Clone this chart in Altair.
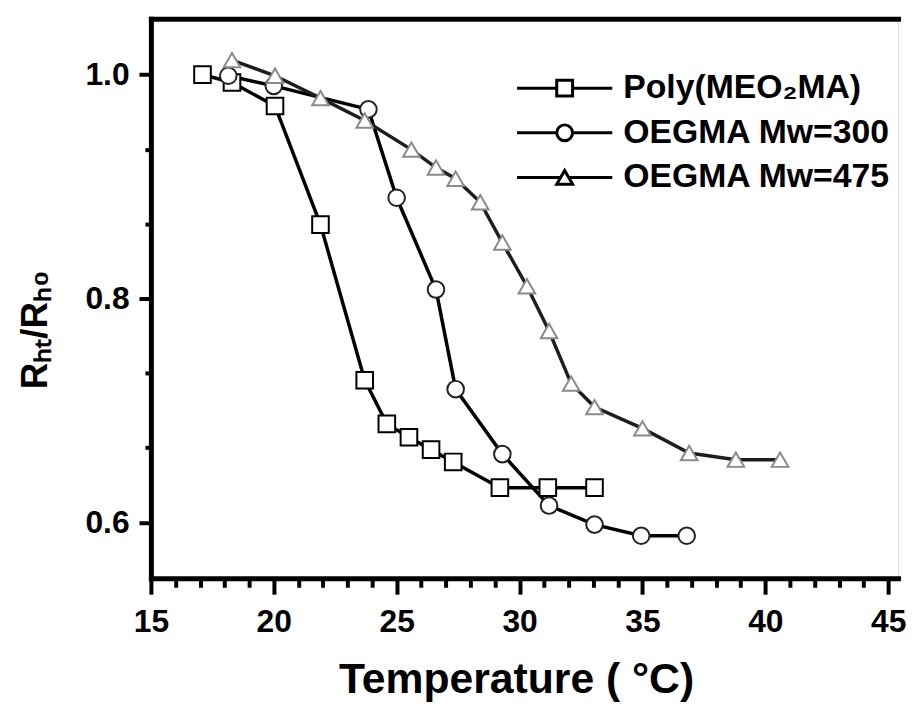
import altair as alt
import pandas as pd

series_names = ["Poly(MEO\u2082MA)", "OEGMA Mw=300", "OEGMA Mw=475"]

temp_meo2ma = [17.1, 18.3, 20.05, 21.9, 23.7, 24.6, 25.5, 26.4, 27.3, 29.2, 31.15, 33.05]
ratio_meo2ma = [1.0, 0.993, 0.972, 0.866, 0.727, 0.688, 0.676, 0.665, 0.654, 0.631, 0.631, 0.631]

temp_300 = [18.15, 20.0, 23.85, 25.0, 26.6, 27.4, 29.3, 31.2, 33.05, 34.95, 36.8]
ratio_300 = [0.999, 0.990, 0.969, 0.890, 0.808, 0.719, 0.661, 0.615, 0.598, 0.588, 0.588]

temp_475 = [18.3, 20.05, 21.9, 23.7, 25.6, 26.6, 27.4, 28.4, 29.3, 30.3, 31.2, 32.1,
            33.05, 35.0, 36.9, 38.8, 40.6]
ratio_475 = [1.013, 0.999, 0.979, 0.959, 0.933, 0.917, 0.907, 0.886, 0.850, 0.811, 0.771,
             0.724, 0.703, 0.684, 0.662, 0.656, 0.656]

x_tick_values = list(range(15, 46))
y_tick_values = [0.6, 0.6667, 0.7333, 0.8, 0.8667, 0.9333, 1.0]

rows = []
for name, xs, ys in [(series_names[0], temp_meo2ma, ratio_meo2ma),
                     (series_names[1], temp_300, ratio_300),
                     (series_names[2], temp_475, ratio_475)]:
    for i, (xv, yv) in enumerate(zip(xs, ys)):
        rows.append({"series": name, "temp": xv, "ratio": yv, "order": i})
df = pd.DataFrame(rows)

FONT = "Liberation Sans"
x_scale = alt.Scale(domain=[15, 45.4], nice=False, zero=False)
y_scale = alt.Scale(domain=[0.55, 1.05], nice=False, zero=False)

x_axis = alt.Axis(
    values=x_tick_values,
    labelExpr="datum.value % 5 === 0 ? datum.label : ''",
    labelOverlap=False, labelFlush=False,
    tickSize={"condition": {"test": "datum.value % 5 === 0", "value": 16}, "value": 9},
    tickWidth=4, tickColor="black",
    domainWidth=5, domainColor="black", domainCap="square",
    labelFont=FONT, labelFontSize=32, labelFontWeight="bold", labelColor="black",
    labelPadding=13,
    title="Temperature ( \u00b0C)", titleFont=FONT, titleFontSize=43, titleFontWeight="bold",
    titleColor="black", titleX=368, titleY=115, titleAlign="center",
    titleBaseline="alphabetic", grid=False, orient="bottom",
)
y_axis = alt.Axis(
    values=y_tick_values,
    labelExpr="abs(datum.value*5 - round(datum.value*5)) < 0.001 ? format(datum.value, '.1f') : ''",
    labelOverlap=False, labelFlush=False,
    tickSize={"condition": {"test": "abs(datum.value*5 - round(datum.value*5)) < 0.001", "value": 12}, "value": 6},
    tickWidth=4, tickColor="black",
    domainWidth=5, domainColor="black", domainCap="square",
    labelFont=FONT, labelFontSize=32, labelFontWeight="bold", labelColor="black",
    labelPadding=10,
    title="R\u2095\u209c/R\u2095\u2080", titleFont=FONT, titleFontSize=37, titleFontWeight="bold",
    titleColor="black", titleX=-105, titleY=313, titleAlign="center",
    titleBaseline="alphabetic", grid=False, orient="left",
)
top_axis = alt.Axis(orient="top", labels=False, ticks=False, title=None, grid=False,
                    domainWidth=5, domainColor="black", domainCap="square")

lines = alt.Chart(df).mark_line().encode(
    x=alt.X("temp:Q", scale=x_scale, axis=x_axis),
    y=alt.Y("ratio:Q", scale=y_scale, axis=y_axis),
    color=alt.Color("series:N", scale=alt.Scale(domain=series_names, range=["black", "black", "#1e1e1e"]), legend=None),
    strokeWidth=alt.StrokeWidth("series:N", scale=alt.Scale(domain=series_names, range=[3.5, 3.5, 2.5]), legend=None),
    detail="series:N",
    order="order:Q",
)

points = alt.Chart(df).mark_point(filled=True, fill="white", size=280, strokeWidth=2, opacity=1).encode(
    x=alt.X("temp:Q", scale=x_scale, axis=None),
    y=alt.Y("ratio:Q", scale=y_scale, axis=None),
    shape=alt.Shape("series:N", scale=alt.Scale(domain=series_names, range=["square", "circle", "triangle-up"]), legend=None),
    stroke=alt.Stroke("series:N", scale=alt.Scale(domain=series_names, range=["black", "#222222", "#8a8a8a"]), legend=None),
)

legend_paths = [
    "M-6,0L-1,0M-1,-1L1,-1L1,1L-1,1ZM1,0L6,0",
    "M-6,0L-1,0M-1,0A1,1,0,1,1,1,0A1,1,0,1,1,-1,0ZM1,0L6,0",
    "M-6,0L-0.5,0M0,-0.866L-1,0.866L1,0.866ZM0.5,0L6,0",
]

legend_layer = alt.Chart(df).transform_filter("false").mark_point(filled=False, color="black").encode(
    x=alt.X("temp:Q", scale=x_scale, axis=None),
    y=alt.Y("ratio:Q", scale=y_scale, axis=None),
    shape=alt.Shape("series:N", scale=alt.Scale(domain=series_names, range=legend_paths),
                    legend=alt.Legend(orient="none", legendX=400, legendY=53, title=None,
                                      symbolSize=256, symbolStrokeWidth=3,
                                      symbolStrokeColor="black", symbolOpacity=1,
                                      labelFont=FONT, labelFontSize=34, labelFontWeight="bold",
                                      labelColor="black", labelOffset=42, rowPadding=11,
                                      labelLimit=600)),
)

frame = alt.Chart(df).mark_point(opacity=0).encode(
    x=alt.X("temp:Q", scale=x_scale, axis=top_axis),
    y=alt.Y("ratio:Q", scale=y_scale, axis=None),
)

chart = alt.layer(lines, points, legend_layer, frame).resolve_axis(
    x="independent", y="independent"
).resolve_scale(shape="independent").properties(
    width=753, height=564,
    autosize=alt.AutoSizeParams(type="none"),
    padding={"left": 144, "top": 8, "right": 8, "bottom": 140},
).configure_view(stroke=None).configure(font=FONT, background="white")

chart.save("out.html", embed_options={"renderer": "svg", "actions": False})
